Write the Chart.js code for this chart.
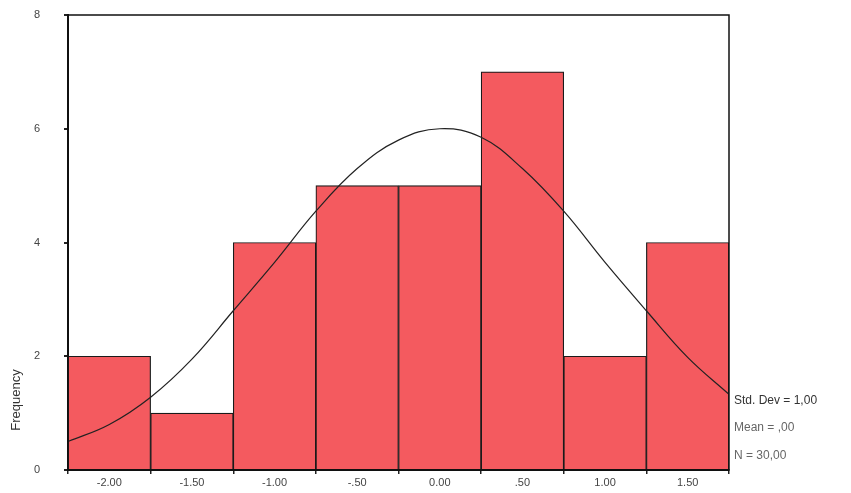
<!DOCTYPE html>
<html>
<head>
<meta charset="utf-8">
<script src="https://cdn.jsdelivr.net/npm/chart.js@4/dist/chart.umd.min.js"></script>
<style>
  html, body { margin:0; padding:0; background:#fff; }
  #wrap { width:851px; height:493px; }
</style>
</head>
<body>
<div id="wrap"><canvas id="hist"></canvas></div>
<script>
// bin centres and counts
const binCenters = [-2.0, -1.5, -1.0, -0.5, 0.0, 0.5, 1.0, 1.5];
const counts = [2, 1, 4, 5, 5, 7, 2, 4];
const xTickLabels = ["-2.00", "-1.50", "-1.00", "-.50", "0.00", ".50", "1.00", "1.50"];
const yTicks = [0, 2, 4, 6, 8];

// normal curve
const curveX = [-2.25, -2.0, -1.75, -1.5, -1.25, -1.0, -0.75, -0.5, -0.25, 0.0, 0.25, 0.5, 0.75, 1.0, 1.25, 1.5, 1.75];
const curveY = [0.50, 0.80, 1.28, 1.95, 2.80, 3.65, 4.55, 5.30, 5.80, 6.00, 5.85, 5.30, 4.55, 3.65, 2.80, 1.98, 1.33];

const statLines = ["Std. Dev = 1,00", "Mean = ,00", "N = 30,00"];

const extras = {
    id: "extras",
    afterDraw(chart){
        const ctx = chart.ctx;
        const a = chart.chartArea;
        ctx.save();
        ctx.strokeStyle = "#111";
        ctx.lineWidth = 1.5;
        ctx.strokeRect(a.left, a.top, a.right - a.left, a.bottom - a.top);

        ctx.fillStyle = "#333";
        ctx.font = "13px 'Liberation Sans', Arial, sans-serif";
        ctx.textAlign = "center";
        ctx.textBaseline = "middle";
        ctx.translate(16, 400);
        ctx.rotate(-Math.PI / 2);
        ctx.fillText("Frequency", 0, 0);
        ctx.restore();

        ctx.save();
        ctx.font = "12px 'Liberation Sans', Arial, sans-serif";
        ctx.textAlign = "left";
        ctx.textBaseline = "middle";
        const ys = [401, 428, 456];
        statLines.forEach((t, i) => {
            ctx.fillStyle = i === 0 ? "#333" : "#666";
            ctx.fillText(t, a.right + 5, ys[i]);
        });
        ctx.restore();
    }
};

new Chart(
    document.getElementById("hist"),
    {
        type: "bar",
        data: {
            datasets: [
                {
                    type: "line",
                    data: curveX.map((x, i) => ({x: x, y: curveY[i]})),
                    borderColor: "#222",
                    borderWidth: 1.2,
                    pointRadius: 0,
                    tension: 0.4,
                    fill: false,
                    order: 0
                },
                {
                    type: "bar",
                    data: binCenters.map((x, i) => ({x: x, y: counts[i]})),
                    backgroundColor: "rgb(244,90,95)",
                    borderColor: "#1a1a1a",
                    borderWidth: 1.2,
                    barPercentage: 1,
                    categoryPercentage: 1,
                    order: 1
                }
            ]
        },
        options: {
            responsive: true,
            maintainAspectRatio: false,
            animation: false,
            layout: { padding: { top: 15, right: 122, left: 0, bottom: 0 } },
            plugins: { legend: { display: false }, tooltip: { enabled: false } },
            scales: {
                x: {
                    type: "linear",
                    min: -2.25,
                    max: 1.75,
                    offset: false,
                    afterBuildTicks: s => { s.ticks = binCenters.map(v => ({value: v})); },
                    afterFit: s => { s.height = 23; s.paddingLeft = 0; s.paddingRight = 0; },
                    ticks: {
                        callback: (v) => xTickLabels[binCenters.indexOf(v)],
                        color: "#444",
                        font: { size: 11, family: "'Liberation Sans', Arial, sans-serif" },
                        padding: 2,
                        maxRotation: 0,
                        autoSkip: false
                    },
                    grid: { drawOnChartArea: false, tickLength: 4, color: "#222", lineWidth: 1.5 },
                    border: { display: true, color: "#111", width: 2 }
                },
                y: {
                    min: 0,
                    max: 8,
                    afterBuildTicks: s => { s.ticks = yTicks.map(v => ({value: v})); },
                    afterFit: s => { s.width = 68; s.paddingTop = 0; s.paddingBottom = 0; },
                    ticks: {
                        color: "#444",
                        font: { size: 11, family: "'Liberation Sans', Arial, sans-serif" },
                        padding: 24
                    },
                    grid: { drawOnChartArea: false, tickLength: 4, color: "#222", lineWidth: 2 },
                    border: { display: true, color: "#111", width: 2 }
                }
            }
        },
        plugins: [extras]
    }
);
</script>
</body>
</html>
